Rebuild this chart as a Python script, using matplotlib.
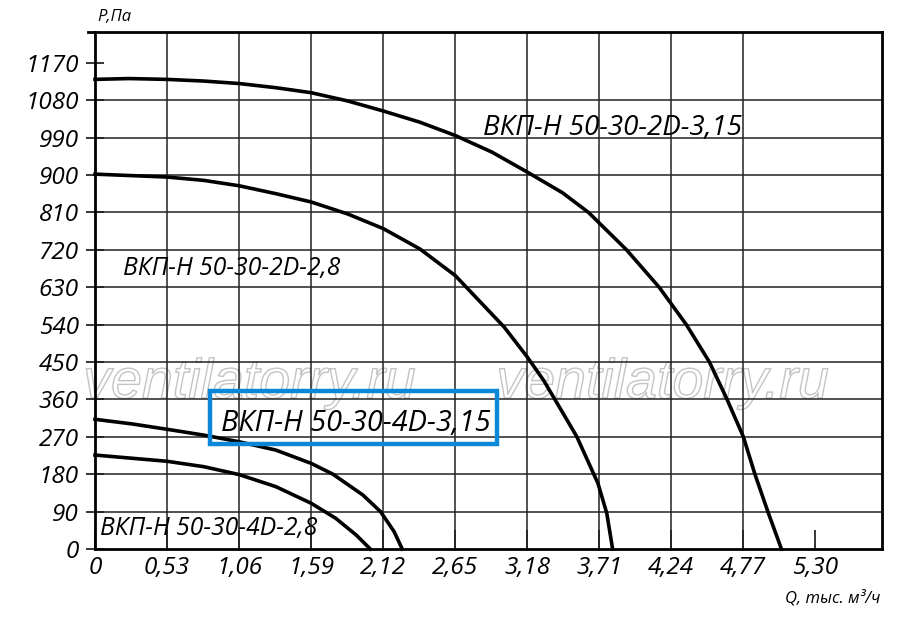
import matplotlib
matplotlib.use("Agg")
import matplotlib.pyplot as plt
import matplotlib.patheffects as pe
from matplotlib.patches import Rectangle

plt.rcParams['font.family'] = ['Open Sans', 'DejaVu Sans']

# fan curves, Q (thousand m3/h) vs P (Pa)
q_2d315 = [0.00, 0.25, 0.53, 0.80, 1.06, 1.33, 1.59, 1.86, 2.12, 2.39, 2.65, 2.92,
           3.18, 3.44, 3.63, 3.91, 4.15, 4.35, 4.52, 4.65, 4.77, 4.855,
           4.95, 5.05]
p_2d315 = [1130, 1132, 1130, 1126, 1120, 1110, 1098, 1078, 1054, 1027, 995, 955,
           907, 857, 810, 720, 630, 540, 450, 360, 270, 180,
           90, 0]

q_2d28 = [0.00, 0.53, 0.80, 1.06, 1.33, 1.59, 1.86, 2.12, 2.39, 2.65, 3.01,
          3.18, 3.30, 3.43, 3.545, 3.70, 3.765, 3.808]
p_2d28 = [902, 895, 887, 874, 855, 835, 806, 771, 722, 658, 534,
          462, 406, 334, 270, 158, 86, 0]

q_4d315 = [0.00, 0.27, 0.53, 0.80, 1.06, 1.33, 1.59, 1.75, 1.97, 2.10, 2.20, 2.26]
p_4d315 = [312, 301, 288, 274, 258, 238, 206, 180, 130, 90, 42, 0]

q_4d28 = [0.00, 0.53, 0.80, 1.06, 1.33, 1.59, 1.77, 1.92, 2.025]
p_4d28 = [226, 211, 198, 179, 150, 110, 74, 34, 0]

x_ticks = [0, 0.53, 1.06, 1.59, 2.12, 2.65, 3.18, 3.71, 4.24, 4.77, 5.30]
x_labels = ['0', '0,53', '1,06', '1,59', '2,12', '2,65', '3,18', '3,71', '4,24', '4,77', '5,30']
y_ticks = [0, 90, 180, 270, 360, 450, 540, 630, 720, 810, 900, 990, 1080, 1170]

fig = plt.figure(figsize=(9, 6.18), dpi=100)
ax = fig.add_axes([0.1056, 0.1117, 0.8744, 0.8365])
ax.set_xlim(0, 5.79)
ax.set_ylim(0, 1244)

# grid (no line at 1170 and 5.30, only short ticks there)
for xv in x_ticks[1:-1]:
    ax.axvline(xv, color='#222222', lw=1.1, zorder=2)
for yv in y_ticks[1:-1]:
    ax.axhline(yv, color='#222222', lw=1.1, zorder=2)

for s in ax.spines.values():
    s.set_linewidth(2.0)
    s.set_zorder(4)
ax.plot([-0.009, 0], [1, 1], transform=ax.transAxes, color='black', lw=2.0, clip_on=False)

ax.set_xticks(x_ticks)
ax.set_xticklabels(x_labels)
ax.set_yticks(y_ticks)
ax.set_yticklabels([str(v) for v in y_ticks])
ax.tick_params(axis='x', direction='in', length=14, width=1.1, pad=5, labelsize=17.5)
ax.tick_params(axis='y', direction='inout', length=13, width=1.1, pad=5, labelsize=17.5)
for lab in ax.get_xticklabels() + ax.get_yticklabels():
    lab.set_fontstyle('italic')

# watermarks
for wx in (-0.015, 0.51):
    ax.text(wx, 0.292, 'ventilatorry.ru', transform=ax.transAxes,
            fontsize=40, fontstyle='italic', family=['Liberation Sans', 'DejaVu Sans'],
            color='none', ha='left', va='baseline', zorder=1,
            path_effects=[pe.Stroke(linewidth=1.0, foreground='#c4c4c4')])

for q, p in [(q_2d315, p_2d315), (q_2d28, p_2d28), (q_4d315, p_4d315), (q_4d28, p_4d28)]:
    ax.plot(q, p, color='black', lw=2.6, solid_joinstyle='round', zorder=5, clip_on=False)

lbl = dict(fontstyle='italic', color='black', zorder=6, va='center', ha='left')
ax.text(2.856, 1013, 'ВКП-Н 50-30-2D-3,15', fontsize=20, **lbl)
ax.text(0.205, 675, 'ВКП-Н 50-30-2D-2,8', fontsize=17.7, **lbl)
ax.text(0.93, 302, 'ВКП-Н 50-30-4D-3,15', fontsize=20.8, **lbl)
ax.text(0.04, 50, 'ВКП-Н 50-30-4D-2,8', fontsize=17.7, **lbl)

box = Rectangle((210 / 900, 1 - 444 / 618), 287 / 900, 53 / 618, transform=fig.transFigure,
                fill=False, edgecolor='#0a87d8', lw=3.2, zorder=7)
fig.patches.append(box)

fig.text(97 / 900, 1 - 17 / 618, 'P,Па', fontsize=12, fontstyle='italic', ha='left', va='center')
fig.text(880 / 900, 1 - 598 / 618, 'Q, тыс. м³/ч', fontsize=12, fontstyle='italic', ha='right', va='center')

fig.savefig('out.png', dpi=100)
